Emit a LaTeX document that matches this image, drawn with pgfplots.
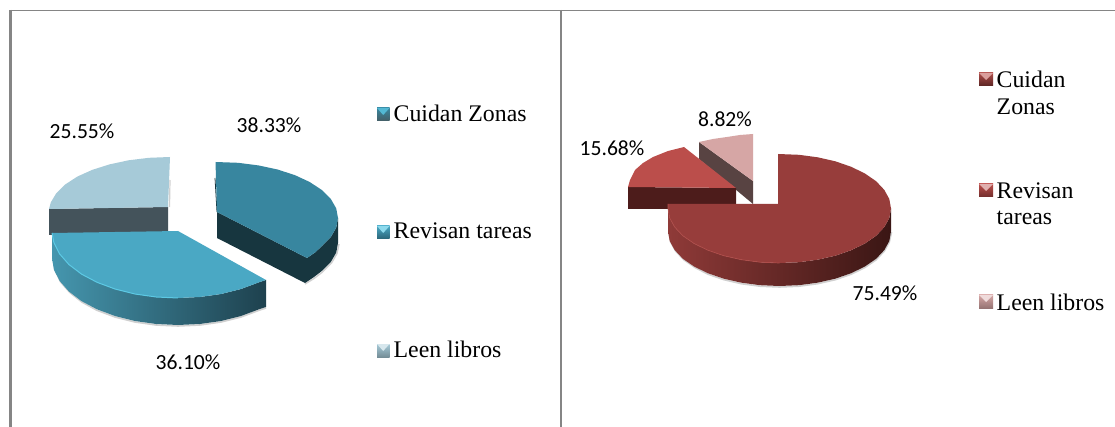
\documentclass[border=0pt]{standalone}
\usepackage{pgfplots}
\pgfplotsset{compat=1.18}
\usepackage{fontspec}
\setmainfont{Liberation Serif}
\newfontfamily\calfont{Carlito}
\definecolor{frameg}{HTML}{858585}
\definecolor{shadowg}{HTML}{D0D0D0}
\definecolor{bTop}{HTML}{38869F}
\definecolor{bSide}{HTML}{17363F}
\definecolor{tTop}{HTML}{4AA8C4}
\definecolor{tL}{HTML}{4596AE}
\definecolor{tR}{HTML}{1E414E}
\definecolor{tRim}{HTML}{5CC9E4}
\definecolor{lTop}{HTML}{A6CAD8}
\definecolor{lSide}{HTML}{44535B}
\definecolor{rTop}{HTML}{973D3B}
\definecolor{rL}{HTML}{8F3A38}
\definecolor{rR}{HTML}{3A1614}
\definecolor{rRim}{HTML}{AE4D4A}
\definecolor{sTop}{HTML}{BB4E4B}
\definecolor{sSide}{HTML}{4D1C1B}
\definecolor{pTop}{HTML}{D6A6A5}
\definecolor{pSide}{HTML}{584342}
% legend key: x0 x1 xm y0 y1 ym  top bottom
\newcommand\mk[9]{%
  \addplot[draw=none,top color=#7,bottom color=#8] coordinates {(#1,#4)(#2,#4)(#2,#5)(#1,#5)} --cycle;
  \addplot[fill=#9,draw=none] coordinates {(#1,#4)(#2,#4)(#3,#6)} --cycle;
}
\begin{document}
\begin{tikzpicture}
\begin{axis}[
  scale only axis, width=1115pt, height=427pt,
  xmin=0, xmax=1115, ymin=0, ymax=427, y dir=reverse,
  hide axis, no markers, clip=true,
]
\addplot[fill=white,draw=none] coordinates {(0,0)(1115,0)(1115,427)(0,427)} --cycle;
% frame
\addplot[frameg,line width=1.5pt] coordinates {(10,10.7)(1115,10.7)};
\addplot[frameg,line width=2.4pt] coordinates {(10.3,10)(10.3,427)};
\addplot[frameg,line width=2.4pt] coordinates {(561.2,10)(561.2,427)};

% ---- left pie ----
% Leen libros
\addplot[fill=lSide,draw=none] coordinates {(49,209)(168,207)(168,232)(49,235)} --cycle;
\addplot[fill=lTop,draw=none] coordinates {(168,207)(170,157)(149,157.8)(128.6,160.3)(109.5,164.4)(92.2,169.9)(77.3,176.6)(65.2,184.5)(56.3,193.2)(50.8,202.4)(49,209)} --cycle;
\addplot[shadowg,line width=1.2pt] coordinates {(170,180)(169.5,207)};
% Revisan tareas
\addplot[shadowg,line width=1.6pt] coordinates {(53,258)(54.9,269.6)(60.6,281.9)(69.9,292.5)(82,302.1)(97,310.3)(115,317)(134.9,322)(156.1,325)(178,326)(199.9,325)(221.1,322)(241,317)(259,310.3)(266,308)};
\addplot[draw=none,left color=tL,right color=tR] coordinates {(266,280)(259,282.3)(241,289)(221.1,294)(199.9,297)(178,298)(156.1,297)(134.9,294)(115,289)(97,282.3)(81.5,274.1)(68.9,264.5)(59.6,253.9)(53.9,242.6)(52,233)
 (52,258)(53.9,269.6)(59.6,280.9)(68.9,291.5)(81.5,301.1)(97,309.3)(115,316)(134.9,321)(156.1,324)(178,325)(199.9,324)(221.1,321)(241,316)(259,309.3)(266,307)} --cycle;
\addplot[fill=tTop,draw=none] coordinates {(178,231)(266,280)(259,282.3)(241,289)(221.1,294)(199.9,297)(178,298)(156.1,297)(134.9,294)(115,289)(97,282.3)(81.5,274.1)(68.9,264.5)(59.6,253.9)(53.9,242.6)(52,233)} --cycle;
\addplot[tRim,line width=1pt] coordinates {(178,298)(156.1,297)(134.9,294)(115,289)(97,282.3)(81.5,274.1)(68.9,264.5)(59.6,253.9)(53.9,242.6)(52,233)};
% Cuidan Zonas
\addplot[shadowg,line width=1.4pt] coordinates {(305,284)(314,278.5)(322.5,272)(331.5,263)(337,253.5)(339,244)};
\addplot[fill=bSide,draw=none] coordinates {(217,212)(217,238)(305,283)(314,277)(321.8,271)(330.7,262.2)(336.2,252.7)(338,243)(338,218)(336.2,227.7)(330.7,237.2)(322,246)(315,252.5)(307,258)} --cycle;
\addplot[bSide,line width=.8pt] coordinates {(215,178)(217,212)};
\addplot[fill=bTop,draw=none] coordinates {(217,212)(215.5,162)(238,162.8)(258.4,165.4)(277.5,169.5)(294.8,175.1)(309.7,182)(321.8,190)(330.7,198.8)(336.2,208.3)(338,218)(336.2,227.7)(330.7,237.2)(322,246)(315,252.5)(307,258)} --cycle;

% ---- right pie ----
% Leen libros
\addplot[fill=pSide,draw=none] coordinates {(699,142)(753,181)(753,204)(699,159)} --cycle;
\addplot[fill=pTop,draw=none] coordinates {(753,181)(753,134)(740,135)(727,137)(713,139)(699,142)} --cycle;
% Revisan tareas
\addplot[fill=sSide,draw=none] coordinates {(628,187)(736,188)(736,204)(668,204)(668,209)(628,209)} --cycle;
\addplot[fill=sTop,draw=none] coordinates {(736,188)(684,147)(668,151)(653,157)(643,163)(635,170)(630,180)(628,187)} --cycle;
% Cuidan Zonas
\addplot[shadowg,line width=1.6pt] coordinates {(669,232)(670.7,242)(675.7,251.1)(683.9,259.8)(695,267.5)(708,274.2)(724,279.7)(741.4,283.7)(760.1,286.2)(779.5,287)(798.9,286.2)(817.6,283.7)(835.3,279.7)(851.2,274.2)(864.9,267.5)(876.1,259.8)(884.3,251.1)(889.3,242)(891.5,232)};
\addplot[draw=none,left color=rL,right color=rR] coordinates {(891,208.5)(889.3,218)(884.3,227.1)(876.1,235.8)(864.9,243.5)(851.2,250.2)(835.3,255.7)(817.6,259.7)(798.9,262.2)(779.5,263)(760.1,262.2)(741.4,259.7)(723.8,255.7)(707.8,250.2)(694.1,243.5)(682.9,235.8)(674.7,227.1)(669.7,218)(668,208.5)
 (668,231.5)(669.7,241)(674.7,250.1)(682.9,258.8)(694.1,266.5)(707.8,273.2)(723.8,278.7)(741.4,282.7)(760.1,285.2)(779.5,286)(798.9,285.2)(817.6,282.7)(835.3,278.7)(851.2,273.2)(864.9,266.5)(876.1,258.8)(884.3,250.1)(889.3,241)(891,231.5)} --cycle;
\addplot[fill=rTop,draw=none] coordinates {(778,204)(778,154)(798.9,154.8)(817.6,157.3)(835.3,161.3)(851.2,166.8)(864.9,173.5)(876.1,181.2)(884.3,189.9)(889.3,199)(891,208.5)(889.3,218)(884.3,227.1)(876.1,235.8)(864.9,243.5)(851.2,250.2)(835.3,255.7)(817.6,259.7)(798.9,262.2)(779.5,263)(760.1,262.2)(741.4,259.7)(723.8,255.7)(707.8,250.2)(694.1,243.5)(682.9,235.8)(674.7,227.1)(669.7,218)(668,208.5)(668,204)} --cycle;
\addplot[rRim,line width=.7pt] coordinates {(779.5,263)(760.1,262.2)(741.4,259.7)(723.8,255.7)(707.8,250.2)(694.1,243.5)(682.9,235.8)(674.7,227.1)(669.7,218)(668,208.5)(668,204)};

% ---- legend keys ----
\mk{377}{389.5}{383.2}{108}{121}{115}{bTop}{bSide!80!white}{tRim!75!bTop}
\mk{377}{389.5}{383.2}{226}{239}{233}{tTop}{bTop!75!black}{tRim!70!white}
\mk{377}{389.5}{383.2}{344}{357}{351}{lTop}{lTop!70!black}{lTop!45!white}
\mk{979}{993}{986}{73}{86}{80}{rRim}{rTop!60!black}{sTop!55!white}
\mk{979}{993}{986}{184}{197}{191}{sTop}{rTop!75!black}{sTop!45!white}
\mk{979}{993}{986}{295}{308}{302}{pTop}{pTop!70!black}{pTop!40!white}

% ---- percent labels ----
\node[font={\calfont\fontsize{21.6}{25}\selectfont}] at (axis cs:269,125) {38.33\%};
\node[font={\calfont\fontsize{21.6}{25}\selectfont}] at (axis cs:82,131) {25.55\%};
\node[font={\calfont\fontsize{21.6}{25}\selectfont}] at (axis cs:188,362) {36.10\%};
\node[font={\calfont\fontsize{21.6}{25}\selectfont}] at (axis cs:612,148) {15.68\%};
\node[font={\calfont\fontsize{21.6}{25}\selectfont}] at (axis cs:725,119) {8.82\%};
\node[font={\calfont\fontsize{21.6}{25}\selectfont}] at (axis cs:885,293) {75.49\%};

% ---- legend text ----
\node[anchor=west,inner sep=0pt,font=\fontsize{23.8}{28}\selectfont] at (axis cs:393.5,113) {Cuidan Zonas};
\node[anchor=west,inner sep=0pt,font=\fontsize{23.8}{28}\selectfont] at (axis cs:393.5,231) {Revisan tareas};
\node[anchor=west,inner sep=0pt,font=\fontsize{23.8}{28}\selectfont] at (axis cs:393.5,349) {Leen libros};
\node[anchor=west,inner sep=0pt,font=\fontsize{23.8}{28}\selectfont] at (axis cs:996.5,79) {Cuidan};
\node[anchor=west,inner sep=0pt,font=\fontsize{23.8}{28}\selectfont] at (axis cs:996.5,107) {Zonas};
\node[anchor=west,inner sep=0pt,font=\fontsize{23.8}{28}\selectfont] at (axis cs:996.5,191) {Revisan};
\node[anchor=west,inner sep=0pt,font=\fontsize{23.8}{28}\selectfont] at (axis cs:996.5,218) {tareas};
\node[anchor=west,inner sep=0pt,font=\fontsize{23.8}{28}\selectfont] at (axis cs:996.5,302) {Leen libros};
\end{axis}
\end{tikzpicture}
\end{document}
